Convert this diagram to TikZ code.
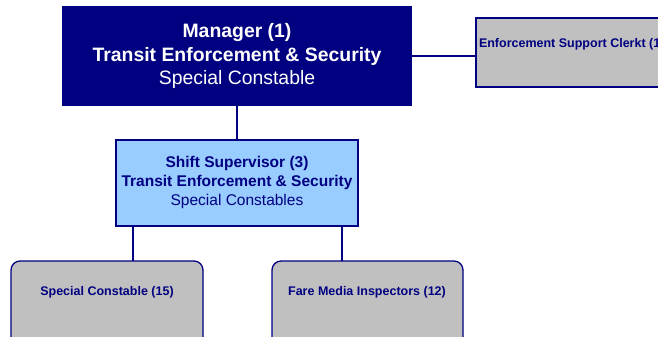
\documentclass[tikz,border=0pt]{standalone}
\usepackage{fontspec}
\setmainfont{Liberation Sans}
\definecolor{navy}{RGB}{0,0,128}
\definecolor{paleblue}{RGB}{153,204,255}
\definecolor{boxgray}{RGB}{192,192,192}
\begin{document}
\begin{tikzpicture}[x=1pt,y=-1pt,
  every node/.style={inner sep=0pt,outer sep=0pt},
  link/.style={draw=navy,line width=1.3pt},
  boss/.style={fill=navy,draw=navy,line width=1.3pt},
  lead/.style={fill=paleblue,draw=navy,line width=1.3pt},
  staff/.style={fill=boxgray,draw=navy,line width=1.3pt,rounded corners=9pt},
  stafftext/.style={text=navy,font=\bfseries\fontsize{12.5}{15}\selectfont}]
\useasboundingbox (0,0) rectangle (658,337);
\clip (0,0) rectangle (658,337);
% manager
\path[boss] (63,7) rectangle (411,105);
\node[text=white,align=center,font=\fontsize{19.4}{23.5}\selectfont] (mgr) at (237,56)
  {\textbf{Manager (1)}\\\textbf{Transit Enforcement \& Security}\\Special Constable};
\coordinate (mgrE) at (411,56);
\coordinate (mgrS) at (237,105);
% clerk, running off the right edge
\path[draw=navy,fill=boxgray,line width=1.3pt] (476,18) rectangle (680,87);
\coordinate (clkW) at (476,56);
\node[stafftext,anchor=west] (clk) at (479,44) {Enforcement Support Clerkt (1)};
% shift supervisor
\path[lead] (116,140) rectangle (358,226);
\node[text=navy,align=center,font=\fontsize{15.5}{19}\selectfont] (sup) at (237,182)
  {\textbf{Shift Supervisor (3)}\\\textbf{Transit Enforcement \& Security}\\Special Constables};
\coordinate (supN) at (237,140);
\coordinate (supSW) at (133,226);
\coordinate (supSE) at (342,226);
% front-line staff
\path[staff] (11,261) rectangle (203,350);
\node[stafftext] (sc) at (107,292) {Special Constable (15)};
\coordinate (scN) at (133,261);
\path[staff] (272,261) rectangle (463,350);
\node[stafftext] (fm) at (367,292) {Fare Media Inspectors (12)};
\coordinate (fmN) at (342,261);
% connectors
\draw[link] (mgrE) -- (clkW);
\draw[link] (mgrS) -- (supN);
\draw[link] (supSW) -- (scN);
\draw[link] (supSE) -- (fmN);
\end{tikzpicture}
\end{document}
